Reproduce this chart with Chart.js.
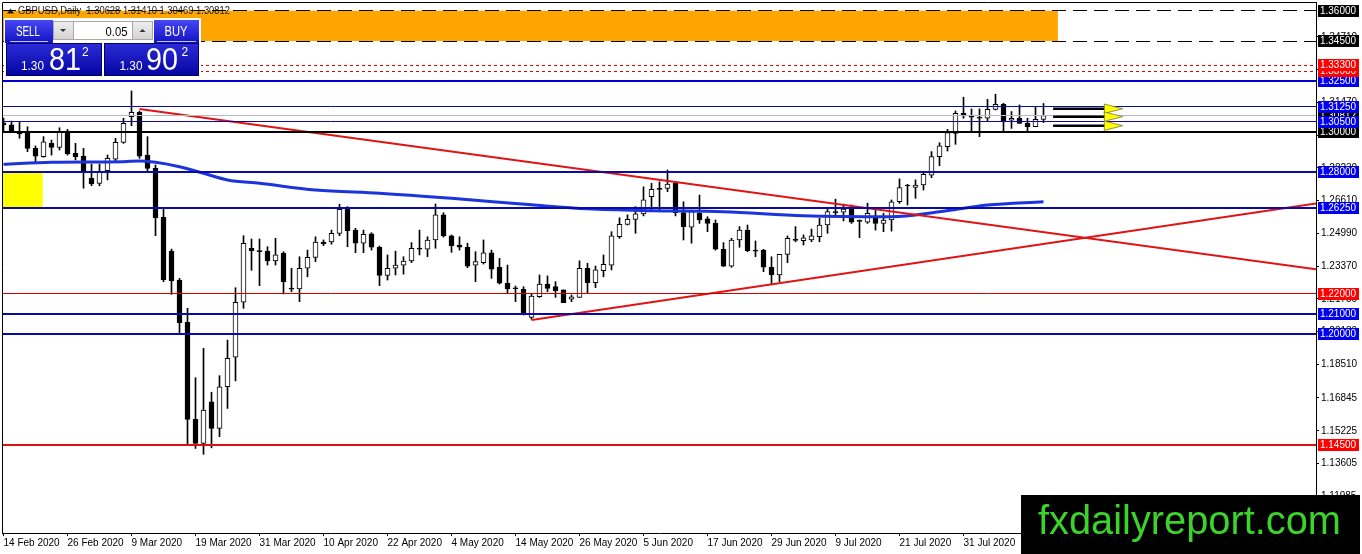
<!DOCTYPE html>
<html><head><meta charset="utf-8">
<script src="https://cdn.jsdelivr.net/npm/chart.js@4.4.1/dist/chart.umd.min.js"></script>
<style>html,body{margin:0;padding:0;background:#fff;overflow:hidden}canvas{display:block}</style>
</head><body>
<canvas id="c" width="1362" height="554"></canvas>
<script>
// ---------- DATA ----------
const dateLabels = ["14 Feb 2020","26 Feb 2020","9 Mar 2020","19 Mar 2020","31 Mar 2020","10 Apr 2020","22 Apr 2020","4 May 2020","14 May 2020","26 May 2020","5 Jun 2020","17 Jun 2020","29 Jun 2020","9 Jul 2020","21 Jul 2020","31 Jul 2020","12 Aug 2020"];
const dateTickBars = [0,8,16,24,32,40,48,56,64,72,80,88,96,104,112,120,128];

const opens = [1.3045,1.3035,1.2995,1.3002,1.2919,1.2878,1.2944,1.2924,1.3005,1.2895,
1.2881,1.2771,1.2746,1.2809,1.2866,1.2949,1.3076,1.3097,1.2886,1.2820,
1.2578,1.2411,1.2268,1.2059,1.1579,1.1460,1.1666,1.1534,1.1740,1.1886,
1.2158,1.2425,1.2412,1.2411,1.2363,1.2400,1.2227,1.2224,1.2326,1.2380,
1.2455,1.2457,1.2499,1.2618,1.2515,1.2450,1.2496,1.2430,1.2291,1.2326,
1.2342,1.2362,1.2425,1.2420,1.2466,1.2590,1.2486,1.2441,1.2430,1.2342,
1.2354,1.2403,1.2331,1.2252,1.2229,1.2222,1.2083,1.2185,1.2248,1.2235,
1.2219,1.2173,1.2182,1.2326,1.2255,1.2314,1.2342,1.2482,1.2543,1.2568,
1.2595,1.2680,1.2720,1.2721,1.2746,1.2601,1.2529,1.2598,1.2570,1.2548,
1.2420,1.2337,1.2466,1.2515,1.2415,1.2416,1.2331,1.2293,1.2395,1.2468,
1.2462,1.2466,1.2482,1.2540,1.2605,1.2603,1.2623,1.2561,1.2554,1.2576,
1.2548,1.2565,1.2655,1.2736,1.2726,1.2738,1.2787,1.2878,1.2927,1.2993,
1.3092,1.3078,1.3073,1.3068,1.3112,1.3137,1.3058,1.3068,1.3043,1.3026,
1.30628];
const highs = [1.3069,1.3054,1.3048,1.3026,1.2931,1.2977,1.2960,1.3021,1.3013,1.2944,
1.2919,1.2842,1.2842,1.2886,1.2969,1.3068,1.3203,1.3104,1.2977,1.2837,
1.2619,1.2421,1.2276,1.2128,1.1785,1.1930,1.1713,1.1795,1.1971,1.2230,
1.2487,1.2471,1.2471,1.2433,1.2474,1.2408,1.2326,1.2383,1.2416,1.2482,
1.2466,1.2515,1.2643,1.2631,1.2524,1.2515,1.2502,1.2436,1.2392,1.2411,
1.2383,1.2453,1.2515,1.2482,1.2644,1.2601,1.2491,1.2482,1.2450,1.2408,
1.2466,1.2416,1.2375,1.2342,1.2238,1.2235,1.2202,1.2293,1.2288,1.2260,
1.2219,1.2194,1.2363,1.2351,1.2337,1.2392,1.2507,1.2576,1.2590,1.2631,
1.2729,1.2746,1.2754,1.2812,1.2750,1.2655,1.2614,1.2688,1.2581,1.2565,
1.2453,1.2474,1.2532,1.2540,1.2461,1.2420,1.2383,1.2395,1.2486,1.2532,
1.2491,1.2520,1.2573,1.2623,1.2668,1.2643,1.2639,1.2565,1.2648,1.2623,
1.2598,1.2664,1.2768,1.2741,1.2763,1.2801,1.2903,1.2947,1.3013,1.3104,
1.3172,1.3114,1.3114,1.3162,1.3187,1.3142,1.3101,1.3134,1.3068,1.3125,
1.31410];
const lows = [1.3000,1.2999,1.2969,1.2903,1.2853,1.2875,1.2886,1.2911,1.2886,1.2862,
1.2722,1.2734,1.2734,1.2763,1.2853,1.2944,1.3031,1.2870,1.2807,1.2487,
1.2260,1.2197,1.2004,1.1452,1.1435,1.1406,1.1438,1.1493,1.1633,1.1769,
1.2128,1.2316,1.2240,1.2342,1.2342,1.2199,1.2210,1.2161,1.2284,1.2359,
1.2438,1.2445,1.2487,1.2433,1.2403,1.2403,1.2416,1.2240,1.2268,1.2293,
1.2297,1.2354,1.2392,1.2383,1.2425,1.2480,1.2405,1.2416,1.2329,1.2260,
1.2347,1.2276,1.2248,1.2202,1.2161,1.2095,1.2074,1.2182,1.2210,1.2182,
1.2156,1.2161,1.2182,1.2202,1.2230,1.2284,1.2318,1.2474,1.2540,1.2499,
1.2585,1.2609,1.2606,1.2705,1.2585,1.2466,1.2450,1.2548,1.2507,1.2416,
1.2334,1.2331,1.2430,1.2408,1.2383,1.2309,1.2248,1.2260,1.2354,1.2457,
1.2441,1.2457,1.2457,1.2499,1.2586,1.2560,1.2548,1.2477,1.2548,1.2515,
1.2507,1.2510,1.2647,1.2639,1.2672,1.2713,1.2774,1.2833,1.2906,1.2939,
1.3068,1.3005,1.2977,1.3054,1.3109,1.3005,1.3018,1.3043,1.3005,1.3026,
1.30469];
const closes = [1.3035,1.3001,1.2991,1.2919,1.2881,1.2952,1.2924,1.3002,1.2891,1.2878,
1.2807,1.2743,1.2807,1.2870,1.2949,1.3043,1.3097,1.2881,1.2820,1.2576,
1.2270,1.2263,1.2057,1.1579,1.1460,1.1625,1.1534,1.1740,1.1881,1.2158,
1.2450,1.2413,1.2408,1.2363,1.2392,1.2260,1.2223,1.2326,1.2380,1.2455,
1.2446,1.2499,1.2618,1.2512,1.2450,1.2494,1.2430,1.2291,1.2326,1.2342,
1.2362,1.2425,1.2421,1.2466,1.2590,1.2486,1.2438,1.2430,1.2337,1.2359,
1.2403,1.2322,1.2252,1.2224,1.2225,1.2103,1.2189,1.2248,1.2227,1.2215,
1.2156,1.2185,1.2326,1.2255,1.2318,1.2346,1.2486,1.2543,1.2568,1.2595,
1.2664,1.2717,1.2716,1.2743,1.2601,1.2532,1.2606,1.2565,1.2548,1.2420,
1.2337,1.2466,1.2515,1.2413,1.2411,1.2331,1.2293,1.2395,1.2474,1.2464,
1.2477,1.2487,1.2540,1.2606,1.2601,1.2619,1.2554,1.2558,1.2598,1.2548,
1.2565,1.2655,1.2725,1.2733,1.2738,1.2791,1.2878,1.2931,1.2997,1.3092,
1.3079,1.3073,1.3068,1.3112,1.3137,1.3054,1.3068,1.3043,1.3026,1.3063,
1.30812];

// moving average read at selected bars
const maBars   = [0,6,15,17,19,22,25,28,32,39,47,56,66,73,81,90,100,111,117,123,130];
const maValues = [1.2840,1.2850,1.2853,1.2857,1.2850,1.2828,1.2796,1.2763,1.2746,1.2713,1.2697,1.2672,1.2640,1.2620,1.2611,1.2606,1.2586,1.2581,1.2606,1.2639,1.2655];

const trendDownBars = [17,164.06], trendDownValues = [1.3114,1.2321];
const trendUpBars   = [66,164.06], trendUpValues   = [1.2070,1.2647];

const levelValues = [1.36,1.345,1.333,1.33,1.325,1.3125,1.305,1.30,1.28,1.2625,1.22,1.21,1.20,1.145];
const bidPrice = 1.30812;
const yTickValues = [1.11985,1.13605,1.15225,1.16845,1.18510,1.20130,1.21750,1.23370,1.24990,1.26610,1.28230,1.29850,1.31470,1.33090,1.34710];

const orangeZoneBars = [-0.2,131.8], orangeZonePrices = [1.36,1.345];
const yellowZoneBars = [-0.2,4.9],   yellowZonePrices = [1.28,1.2625];

const arrowLevels = [1.3115,1.3076,1.3031];
const arrowBars = [131.2,137.6,139.9];

const titleText = "GBPUSD,Daily  1.30628 1.31410 1.30469 1.30812";
const panelText = {sell:"SELL", buy:"BUY", lot:"0.05", sellSmall:"1.30", sellBig:"81", sellSup:"2", buySmall:"1.30", buyBig:"90", buySup:"2"};
const watermark = "fxdailyreport.com";

// ---------- STYLES ----------
const BLUE_LINE = '#0a0aa8', BLUE_BOX = '#0000ee', RED_BOX = '#ff0000';
const levelStyles = [
  {c:'#000',w:1,d:[14,7],b:'#000'},
  {c:'#000',w:1,d:[14,7],b:'#000'},
  {c:'#e00000',w:1,d:[3,3],b:RED_BOX},
  {c:'#e00000',w:1,d:[3,3],b:RED_BOX},
  {c:'#0000d0',w:2,d:[],b:BLUE_BOX},
  {c:BLUE_LINE,w:1,d:[],b:BLUE_BOX},
  {c:BLUE_LINE,w:1,d:[],b:BLUE_BOX},
  {c:'#000',w:2,d:[],b:'#000'},
  {c:BLUE_LINE,w:2,d:[],b:BLUE_BOX},
  {c:BLUE_LINE,w:2,d:[],b:BLUE_BOX},
  {c:'#d00000',w:1,d:[],b:RED_BOX},
  {c:BLUE_LINE,w:2,d:[],b:BLUE_BOX},
  {c:BLUE_LINE,w:2,d:[],b:BLUE_BOX},
  {c:'#dd1010',w:2,d:[],b:RED_BOX}
];
const FONT = 'Liberation Sans, Arial, sans-serif';

// ---------- PLUGIN ----------
function crispY(py,w){ return w%2===1 ? Math.round(py-0.5)+0.5 : Math.round(py); }

const overlay = {
  id:'overlay',
  beforeDatasetsDraw(chart){
    const {ctx, chartArea:a, scales:{x,y}} = chart;
    ctx.save();
    ctx.beginPath(); ctx.rect(a.left,a.top,a.right-a.left,a.bottom-a.top); ctx.clip();
    const zone=(bars,prices,col)=>{
      const x0=x.getPixelForValue(bars[0]), x1=x.getPixelForValue(bars[1]);
      const y0=y.getPixelForValue(prices[0]), y1=y.getPixelForValue(prices[1]);
      ctx.fillStyle=col; ctx.fillRect(x0,y0,x1-x0,y1-y0);
    };
    zone(orangeZoneBars,orangeZonePrices,'#ffa500');
    zone(yellowZoneBars,yellowZonePrices,'#ffff00');
    // title
    ctx.fillStyle='#222';
    ctx.beginPath(); ctx.moveTo(7,13.5); ctx.lineTo(10.5,8.5); ctx.lineTo(14,13.5); ctx.closePath(); ctx.fill();
    ctx.font='10px '+FONT; ctx.textBaseline='middle'; ctx.textAlign='left';
    ctx.fillText(titleText,18,11.5,212);
    ctx.restore();
  },
  afterDatasetsDraw(chart){
    const {ctx, chartArea:a, scales:{x,y}} = chart;
    ctx.save();
    ctx.beginPath(); ctx.rect(a.left,a.top,a.right-a.left,a.bottom-a.top); ctx.clip();
    // bid line
    let by=crispY(y.getPixelForValue(bidPrice),1);
    ctx.strokeStyle='#b8b8b8'; ctx.lineWidth=1; ctx.setLineDash([]);
    ctx.beginPath(); ctx.moveTo(a.left,by); ctx.lineTo(a.right,by); ctx.stroke();
    levelValues.forEach((v,i)=>{
      const s=levelStyles[i];
      const py=crispY(y.getPixelForValue(v),s.w);
      ctx.strokeStyle=s.c; ctx.lineWidth=s.w; ctx.setLineDash(s.d);
      ctx.beginPath(); ctx.moveTo(a.left,py); ctx.lineTo(a.right,py); ctx.stroke();
    });
    ctx.setLineDash([]);
    // arrows
    arrowLevels.forEach(v=>{
      const py=y.getPixelForValue(v);
      const x0=x.getPixelForValue(arrowBars[0]), x1=x.getPixelForValue(arrowBars[1]), x2=x.getPixelForValue(arrowBars[2]);
      ctx.strokeStyle='#000'; ctx.lineWidth=2.5;
      ctx.beginPath(); ctx.moveTo(x0,py); ctx.lineTo(x1+3,py); ctx.stroke();
      ctx.fillStyle='#ffff00'; ctx.strokeStyle='#7a7a30'; ctx.lineWidth=0.8;
      ctx.beginPath(); ctx.moveTo(x1,py-4.7); ctx.lineTo(x2,py); ctx.lineTo(x1,py+4.7); ctx.closePath(); ctx.fill(); ctx.stroke();
    });
    ctx.restore();
  },
  afterDraw(chart){
    const {ctx, chartArea:a, scales:{y}} = chart;
    ctx.save();
    // frame left/top
    ctx.strokeStyle='#000'; ctx.lineWidth=1;
    ctx.beginPath(); ctx.moveTo(a.left+0.5,a.bottom); ctx.lineTo(a.left+0.5,a.top+0.5); ctx.lineTo(a.right,a.top+0.5); ctx.stroke();
    // price label boxes
    ctx.font='10px '+FONT; ctx.textBaseline='middle'; ctx.textAlign='left';
    const box=(v,col)=>{
      const py=Math.round(y.getPixelForValue(v));
      ctx.fillStyle=col; ctx.fillRect(a.right+2,py-6,41,12);
      ctx.fillStyle='#fff'; ctx.fillText(v.toFixed(5),a.right+4,py+0.5,36);
    };
    box(bidPrice,'#000');
    const order = levelValues.map((v,i)=>i).sort((p,q)=>levelValues[p]-levelValues[q]);
    order.forEach(i=>box(levelValues[i],levelStyles[i].b));
    // trade panel
    drawPanel(ctx);
    // watermark
    ctx.fillStyle='#000'; ctx.fillRect(1021,495,339,59);
    ctx.fillStyle='#3ad42a'; ctx.font='40px '+FONT; ctx.textBaseline='alphabetic'; ctx.textAlign='left';
    ctx.fillText(watermark,1038,533.5,303);
    ctx.restore();
  }
};

function drawPanel(ctx){
  const g=(y0,y1,c0,c1)=>{const gr=ctx.createLinearGradient(0,y0,0,y1); gr.addColorStop(0,c0); gr.addColorStop(1,c1); return gr;};
  ctx.fillStyle='#fff'; ctx.fillRect(4,18,197,60);
  // buttons
  ctx.fillStyle=g(20,43,'#4646f2','#1212c4');
  ctx.fillRect(5,20,48,23); ctx.fillRect(154,20,45,23);
  // price boxes
  ctx.fillStyle=g(43,77,'#2c2cd8','#0303a0');
  ctx.fillRect(6,43,96,33); ctx.fillRect(104,43,95,33);
  ctx.strokeStyle='#00006a'; ctx.lineWidth=1;
  ctx.strokeRect(6.5,43.5,95,32); ctx.strokeRect(104.5,43.5,94,32);
  // separators
  ctx.strokeStyle='rgba(210,210,255,0.9)';
  ctx.beginPath(); ctx.moveTo(10,41.5); ctx.lineTo(48,41.5); ctx.moveTo(157,41.5); ctx.lineTo(196,41.5); ctx.stroke();
  // spinner
  ctx.fillStyle=g(21,40,'#f0f0f0','#d0d0d0');
  ctx.fillRect(53,21,20,19); ctx.fillRect(132,21,21,19);
  ctx.fillStyle='#fff'; ctx.fillRect(73,21,59,19);
  ctx.strokeStyle='#a8a8a8'; ctx.strokeRect(53.5,21.5,99,18);
  ctx.beginPath(); ctx.moveTo(73.5,21); ctx.lineTo(73.5,40); ctx.moveTo(132.5,21); ctx.lineTo(132.5,40); ctx.stroke();
  ctx.fillStyle='#333';
  ctx.beginPath(); ctx.moveTo(60,29); ctx.lineTo(66,29); ctx.lineTo(63,32); ctx.closePath(); ctx.fill();
  ctx.beginPath(); ctx.moveTo(139.5,32); ctx.lineTo(145.5,32); ctx.lineTo(142.5,29); ctx.closePath(); ctx.fill();
  // texts
  ctx.textBaseline='alphabetic';
  ctx.fillStyle='#000'; ctx.font='13px '+FONT; ctx.textAlign='right';
  ctx.fillText(panelText.lot,127.5,35.5,22);
  ctx.fillStyle='#fff'; ctx.textAlign='center'; ctx.font='14px '+FONT;
  ctx.fillText(panelText.sell,28,36,24);
  ctx.fillText(panelText.buy,176,36,23);
  ctx.textAlign='left';
  ctx.font='13px '+FONT;
  ctx.fillText(panelText.sellSmall,21,69.5,23);
  ctx.fillText(panelText.buySmall,119.5,69.5,23);
  ctx.font='32px '+FONT;
  ctx.fillText(panelText.sellBig,49,70,32);
  ctx.fillText(panelText.buyBig,146,70,32);
  ctx.font='12px '+FONT;
  ctx.fillText(panelText.sellSup,82,55.5);
  ctx.fillText(panelText.buySup,181.5,55.5);
}

// ---------- CHART ----------
const candleWicks  = opens.map((o,i)=>({x:i,y:[lows[i],highs[i]]}));
const candleBodies = opens.map((o,i)=>({x:i,y:[o,closes[i]]}));
const bodyColors   = opens.map((o,i)=> closes[i]>=o ? '#ffffff' : '#000000');
const maPoints     = maBars.map((b,i)=>({x:b,y:maValues[i]}));
const downPoints   = trendDownBars.map((b,i)=>({x:b,y:trendDownValues[i]}));
const upPoints     = trendUpBars.map((b,i)=>({x:b,y:trendUpValues[i]}));

const tickFont = {family:FONT,size:10};
new Chart(document.getElementById('c'),{
  type:'line',
  data:{datasets:[
    {type:'bar',data:candleWicks,barThickness:1,backgroundColor:'#000',borderWidth:0,grouped:false,order:4},
    {type:'bar',data:candleBodies,barThickness:5,backgroundColor:bodyColors,borderColor:'#000',borderWidth:1,borderSkipped:false,minBarLength:1,grouped:false,order:3},
    {type:'line',data:maPoints,borderColor:'#1c34dc',borderWidth:3,pointRadius:0,cubicInterpolationMode:'monotone',order:2},
    {type:'line',data:downPoints,borderColor:'#e01414',borderWidth:2,pointRadius:0,order:1},
    {type:'line',data:upPoints,borderColor:'#e01414',borderWidth:2,pointRadius:0,order:1}
  ]},
  options:{
    responsive:false, animation:false, devicePixelRatio:1,
    layout:{padding:{left:2,top:2,right:0,bottom:0}},
    plugins:{legend:{display:false},tooltip:{enabled:false}},
    scales:{
      x:{type:'linear',min:-0.1875,max:164.0625,offset:false,
        afterBuildTicks(s){ s.ticks = dateTickBars.map(v=>({value:v})); },
        afterFit(s){ s.height = 21; s.paddingLeft = 0; s.paddingRight = 0; },
        grid:{drawOnChartArea:false,drawTicks:true,tickLength:3,color:'#000',offset:false},
        border:{display:true,color:'#000',width:1},
        ticks:{autoSkip:false,maxRotation:0,minRotation:0,align:'start',padding:1,color:'#000',font:tickFont,
          callback(v){ const i=dateTickBars.indexOf(v); return i>=0 ? dateLabels[i] : ''; }}
      },
      y:{type:'linear',position:'right',min:1.101682,max:1.364293,
        afterBuildTicks(s){ s.ticks = yTickValues.map(v=>({value:v})); },
        afterFit(s){ s.width = 46; s.paddingTop = 0; s.paddingBottom = 0; },
        grid:{drawOnChartArea:false,drawTicks:true,tickLength:3,color:'#000'},
        border:{display:true,color:'#000',width:1},
        ticks:{autoSkip:false,padding:2,color:'#000',font:tickFont,callback:v=>Number(v).toFixed(5)}
      }
    }
  },
  plugins:[overlay]
});
</script>
</body></html>
